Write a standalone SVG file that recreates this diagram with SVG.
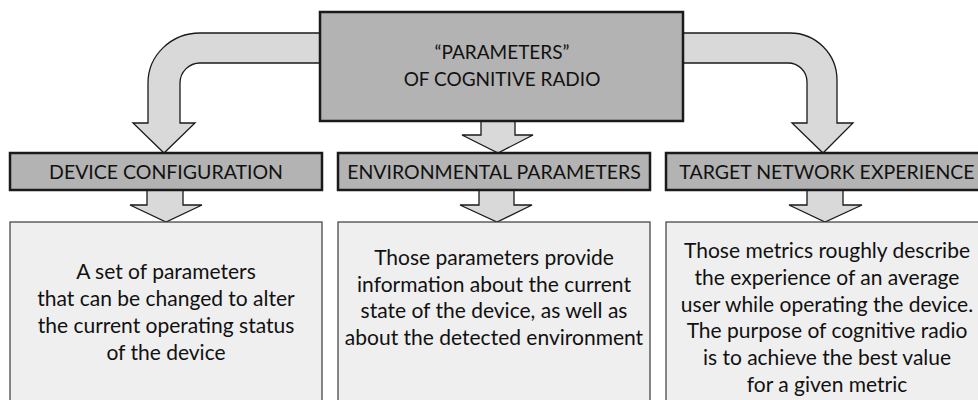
<svg xmlns="http://www.w3.org/2000/svg" width="978" height="400" viewBox="0 0 978 400">
<style>
.main{fill:#b3b3b3;stroke:#1a1a1a;stroke-width:2.5}
.desc{fill:#efefef;stroke:#3a3a3a;stroke-width:1.2}
.arr{fill:#d9d9d9;stroke:#1a1a1a;stroke-width:1.3;stroke-linejoin:miter}
text{font-family:Lato,"Open Sans","Liberation Sans",sans-serif;font-size:19.5px;fill:#111;text-anchor:middle}
text.t{font-size:19px}
text.b{font-size:21px}
</style>
<rect width="978" height="400" fill="#ffffff"/>
<g id="connectors">
<path class="arr" d="M320,33 H200 A52,50 0 0 0 148,83 V123 H133 L164,153 L195,123 H180 V83 A20,20 0 0 1 200,63 H320 Z"/>
<path class="arr" d="M683,33 H790 A47,47 0 0 1 837,80 V123 H853 L823,153 L792,123 H807 V82 A19,19 0 0 0 788,63 H683 Z"/>
<path class="arr" d="M481,121 V135 H462 L498,153 L533,135 H515 V121 Z"/>
<path class="arr" d="M147,190 V205 H130 L166,222 L202,205 H183 V190 Z"/>
<path class="arr" d="M479,190 V205 H460 L497,222 L532,205 H514 V190 Z"/>
<path class="arr" d="M807,190 V205 H789 L825,222 L862,205 H843 V190 Z"/>
</g>
<g id="root">
<rect class="main" x="320" y="12" width="363" height="109"/>
<text class="t" x="502" y="59">“PARAMETERS”</text>
<text class="t" x="502" y="86">OF COGNITIVE RADIO</text>
</g>
<g id="device-configuration">
<rect class="main" x="10" y="153" width="312" height="37"/>
<text x="166" y="179">DEVICE CONFIGURATION</text>
</g>
<g id="environmental-parameters">
<rect class="main" x="338" y="153" width="312" height="37"/>
<text x="494" y="179">ENVIRONMENTAL PARAMETERS</text>
</g>
<g id="target-network-experience">
<rect class="main" x="666" y="153" width="330" height="37"/>
<text x="827" y="179">TARGET NETWORK EXPERIENCE</text>
</g>
<g id="device-desc">
<rect class="desc" x="10" y="222" width="312" height="190"/>
<text class="b" x="166" y="279">A set of parameters</text>
<text class="b" x="166" y="306">that can be changed to alter</text>
<text class="b" x="166" y="333">the current operating status</text>
<text class="b" x="166" y="360">of the device</text>
</g>
<g id="environment-desc">
<rect class="desc" x="338" y="222" width="312" height="190"/>
<text class="b" x="494" y="265">Those parameters provide</text>
<text class="b" x="494" y="292">information about the current</text>
<text class="b" x="494" y="318">state of the device, as well as</text>
<text class="b" x="494" y="345">about the detected environment</text>
</g>
<g id="target-desc">
<rect class="desc" x="666" y="222" width="330" height="190"/>
<text class="b" x="827" y="258">Those metrics roughly describe</text>
<text class="b" x="827" y="285">the experience of an average</text>
<text class="b" x="827" y="312">user while operating the device.</text>
<text class="b" x="827" y="338">The purpose of cognitive radio</text>
<text class="b" x="827" y="365">is to achieve the best value</text>
<text class="b" x="827" y="392">for a given metric</text>
</g>
</svg>
